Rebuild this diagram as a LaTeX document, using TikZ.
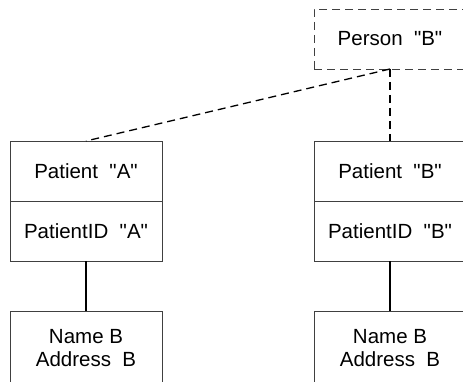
\documentclass[tikz,border=0pt]{standalone}
\usepackage{fontspec}
\setmainfont{Liberation Sans}[Ligatures=TeXOff]
\usetikzlibrary{positioning}
\begin{document}
\begin{tikzpicture}
[x=1pt,y=1pt,
 every node/.style=
   {minimum width=152pt,minimum height=60pt,rectangle,draw=black!75,
    line width=0.9pt,inner sep=0pt,outer sep=0pt,align=center,
    font=\fontsize{20.5}{23}\selectfont},
 link/.style={line width=1.3pt},
 dashlink/.style={line width=1.3pt,dash pattern=on 8pt off 5pt}]
\clip (0,0) rectangle (463,-382);
\node [dash pattern=on 8pt off 5pt] (personB) at (390,-39) {Person~ "B"};
\node [] (patA) at (86,-171) {Patient~ "A"};
\node [below=0pt of patA] (patidA) {PatientID~ "A"};
\node [below=50pt of patidA,minimum height=74pt] (nameA) {Name B\\Address~ B};
\node [] (patB) at (390,-171) {Patient~ "B"};
\node [below=0pt of patB] (patidB) {PatientID~ "B"};
\node [below=50pt of patidB,minimum height=74pt] (nameB) {Name B\\Address~ B};
\draw [dashlink] (personB.south) -- (patA.north);
\draw [dashlink] (personB.south) -- (patB.north);
\draw [link] (patidA) -- (nameA);
\draw [link] (patidB) -- (nameB);
\end{tikzpicture}
\end{document}
